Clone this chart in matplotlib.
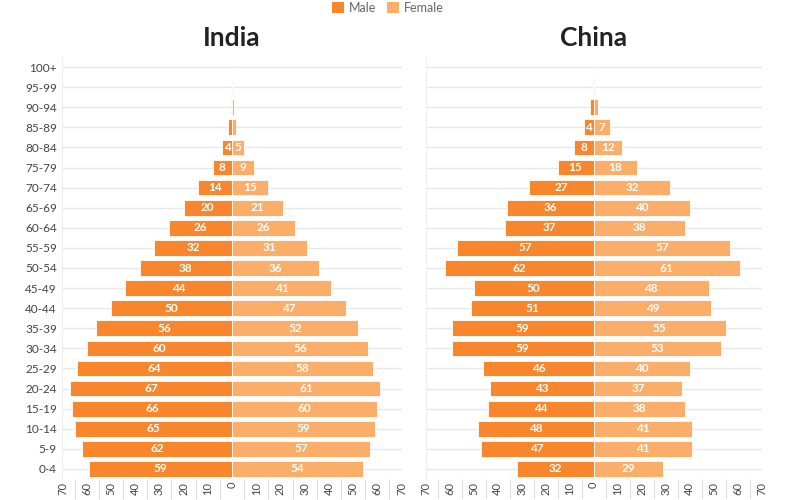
import matplotlib
matplotlib.use("Agg")
import matplotlib.pyplot as plt
import numpy as np
from matplotlib.patches import Patch

age_groups = ["0-4", "5-9", "10-14", "15-19", "20-24", "25-29", "30-34", "35-39",
              "40-44", "45-49", "50-54", "55-59", "60-64", "65-69", "70-74", "75-79",
              "80-84", "85-89", "90-94", "95-99", "100+"]

india_male = [59, 62, 65, 66, 67, 64, 60, 56, 50, 44, 38, 32, 26, 20, 14, 8, 4, 1.5, 0.6, 0.2, 0]
india_female = [54, 57, 59, 60, 61, 58, 56, 52, 47, 41, 36, 31, 26, 21, 15, 9, 5, 1.5, 0.8, 0.3, 0]
china_male = [32, 47, 48, 44, 43, 46, 59, 59, 51, 50, 62, 57, 37, 36, 27, 15, 8, 4, 1.5, 0.3, 0]
china_female = [29, 41, 41, 38, 37, 40, 53, 55, 49, 48, 61, 57, 38, 40, 32, 18, 12, 7, 2, 0.4, 0]

xticks = [-70, -60, -50, -40, -30, -20, -10, 0, 10, 20, 30, 40, 50, 60, 70]
xtick_labels = [str(abs(v)) for v in xticks]

male_color = "#F7862C"
female_color = "#FAAE6A"
grid_color = "#E8E8E8"
text_color = "#444444"

plt.rcParams["font.family"] = ["Lato", "DejaVu Sans"]

fig = plt.figure(figsize=(8, 5), dpi=100)
ax1 = fig.add_axes([0.078, 0.042, 0.424, 0.844])
ax2 = fig.add_axes([0.532, 0.042, 0.42, 0.844])

y = np.arange(len(age_groups))

def draw(ax, male, female, title, show_y):
    male = np.array(male, dtype=float)
    female = np.array(female, dtype=float)
    ax.barh(y, -male, height=0.78, color=male_color, edgecolor="white", linewidth=0.6, zorder=3)
    ax.barh(y, female, height=0.78, color=female_color, edgecolor="white", linewidth=0.6, zorder=3)
    for yi, m, f in zip(y, male, female):
        if m >= 4:
            ax.text(-m / 2, yi, f"{m:g}", ha="center", va="center", color="white",
                    fontsize=8.5, fontweight="bold", zorder=4)
        if f >= 4:
            ax.text(f / 2, yi, f"{f:g}", ha="center", va="center", color="white",
                    fontsize=8.5, fontweight="bold", zorder=4)
    ax.set_xlim(-70, 70)
    ax.set_ylim(-0.5, len(age_groups) - 0.5)
    ax.set_yticks(y)
    if show_y:
        ax.set_yticklabels(age_groups, fontsize=8.5, color=text_color)
    else:
        ax.set_yticklabels([])
    ax.tick_params(axis="y", length=0, pad=4)
    ax.set_xticks(xticks)
    ax.set_xticklabels(xtick_labels, rotation=90, fontsize=8, color=text_color)
    ax.tick_params(axis="x", length=0, pad=2)
    ax.set_xticks(np.arange(-65, 70, 10), minor=True)
    ax.tick_params(axis="x", which="minor", length=14, color="#DDDDDD", width=0.8)
    for s in ["top", "right", "bottom"]:
        ax.spines[s].set_visible(False)
    ax.spines["left"].set_color("#EEEEEE")
    ax.grid(axis="y", color=grid_color, linewidth=1, zorder=0)
    ax.set_axisbelow(True)
    ax.set_title(title, fontsize=19, fontweight="bold", color="#222222", pad=8)

draw(ax1, india_male, india_female, "India", True)
draw(ax2, china_male, china_female, "China", False)

handles = [Patch(facecolor=male_color, label="Male"), Patch(facecolor=female_color, label="Female")]
fig.legend(handles=handles, loc="upper center", bbox_to_anchor=(0.485, 1.0), ncol=2, frameon=False,
           fontsize=9, handlelength=1.0, handleheight=1.0, handletextpad=0.4, columnspacing=0.8,
           labelcolor="#666666", borderpad=0.15, borderaxespad=0.0)

fig.savefig("out.png", dpi=100)
